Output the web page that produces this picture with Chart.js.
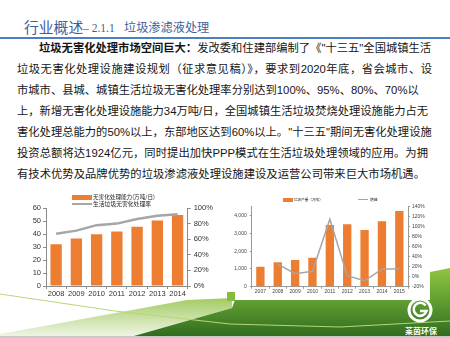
<!DOCTYPE html>
<html><head><meta charset="utf-8">
<script src="https://cdn.jsdelivr.net/npm/chart.js@4"></script>
<style>
html,body{margin:0;padding:0;background:#fff;}
body{width:450px;height:338px;position:relative;overflow:hidden;font-family:"Liberation Sans","Noto Sans CJK SC",sans-serif;}
#bg{position:absolute;left:0;top:0;}
.t{position:absolute;color:#3f5f9c;white-space:nowrap;}
.rule{position:absolute;left:0;top:36.5px;width:450px;height:2px;background:#4f7fc0;}
.ln{position:absolute;height:21px;line-height:21px;font-size:11.3px;color:#151515;white-space:nowrap;text-align:justify;text-align-last:justify;font-family:"Liberation Sans","Noto Sans CJK SC",sans-serif;}
.ln b{font-weight:bold;}
canvas{position:absolute;}
.lg{position:absolute;font-family:"Noto Sans CJK SC",serif;color:#222;white-space:nowrap;}
</style></head><body>
<svg id="bg" width="450" height="338">
<defs>
<linearGradient id="dg" x1="0" y1="268" x2="0" y2="338" gradientUnits="userSpaceOnUse">
<stop offset="0" stop-color="#8fc640"/><stop offset="0.45" stop-color="#62a032"/><stop offset="1" stop-color="#2e6a1f"/>
</linearGradient>
<linearGradient id="lg" x1="0" y1="298" x2="0" y2="338" gradientUnits="userSpaceOnUse">
<stop offset="0" stop-color="#a3cb62"/><stop offset="1" stop-color="#f2f7ea"/>
</linearGradient>
</defs>
<polygon points="0,338 0,334 187,300 232,298 232,308 127,338" fill="url(#lg)"/>
<polygon points="127,338 232,308 235,300 430,300 430,272 450,268 450,338" fill="url(#dg)"/>
<rect x="227" y="292" width="8" height="9" fill="#86bb3c"/>
<polyline points="0,294 115,311 230,324 340,327 450,321" fill="none" stroke="#b6d67a" stroke-width="1"/>
<rect x="0" y="336" width="450" height="2" fill="#c9c9c9"/>
<circle cx="420" cy="310" r="11" fill="none" stroke="#fff" stroke-width="3"/>
<path d="M425.5,305.5 A6.5,6.5 0 1 0 426.5,311 L420,311" fill="none" stroke="#fff" stroke-width="2.6"/>
<text x="421" y="334" fill="#fff" font-size="8" font-weight="bold" text-anchor="middle" font-family="Noto Sans CJK SC">莱茵环保</text>
</svg>

<div class="t" style="left:24px;top:17px;line-height:20px;font-size:14.8px;font-family:'Noto Sans CJK SC',sans-serif;">行业概述</div>
<div class="t" style="left:83px;top:19px;line-height:18px;font-size:11.5px;font-family:'Liberation Serif',serif;">– 2.1.1</div>
<div class="t" style="left:124px;top:18px;line-height:18px;font-size:12.2px;font-family:'Noto Sans CJK SC',sans-serif;">垃圾渗滤液处理</div>
<div class="rule"></div>

<div class="ln" style="left:39px;top:37.5px;width:389px;"><b>垃圾无害化处理市场空间巨大：</b>发改委和住建部编制了《"十三五"全国城镇生活</div>
<div class="ln" style="left:17px;top:58.5px;width:415px;">垃圾无害化处理设施建设规划（征求意见稿）》，要求到2020年底，省会城市、设</div>
<div class="ln" style="left:17px;top:79.5px;width:398px;">市城市、县城、城镇生活垃圾无害化处理率分别达到100%、95%、80%、70%以</div>
<div class="ln" style="left:17px;top:100.5px;width:409px;">上，新增无害化处理设施能力34万吨/日，全国城镇生活垃圾焚烧处理设施能力占无</div>
<div class="ln" style="left:17px;top:121.5px;width:413px;">害化处理总能力的50%以上，东部地区达到60%以上。"十三五"期间无害化处理设施</div>
<div class="ln" style="left:17px;top:142.5px;width:411px;">投资总额将达1924亿元，同时提出加快PPP模式在生活垃圾处理领域的应用。为拥</div>
<div class="ln" style="left:17px;top:163.5px;width:408px;">有技术优势及品牌优势的垃圾渗滤液处理设施建设及运营公司带来巨大市场机遇。</div>

<canvas id="c1" width="200" height="115" style="left:25px;top:185px;width:200px;height:115px;"></canvas>
<canvas id="c2" width="208" height="105" style="left:222px;top:190px;width:208px;height:105px;"></canvas>

<div style="position:absolute;left:72px;top:195px;width:20px;height:5px;background:#ed7d31;"></div>
<div class="lg" style="left:93px;top:193px;font-size:5.6px;line-height:8px;">无害化处理能力(万吨/日)</div>
<div style="position:absolute;left:72px;top:203px;width:20px;height:2px;background:#a6a6a6;"></div>
<div class="lg" style="left:93px;top:200px;font-size:5.8px;line-height:8px;">生活垃圾无害化处理率</div>

<div style="position:absolute;left:283px;top:198px;width:10px;height:3.5px;background:#ed7d31;"></div>
<div class="lg" style="left:294px;top:197px;font-size:3.6px;line-height:5px;">垃圾产量（万吨）</div>
<div style="position:absolute;left:358px;top:199px;width:10px;height:1px;background:#a6a6a6;"></div>
<div class="lg" style="left:370px;top:197px;font-size:3.8px;line-height:5px;">增速</div>

<script>
// Left chart data
const leftYears = ['2008','2009','2010','2011','2012','2013','2014'];
const capacity = [32.2, 36.6, 39.8, 42.0, 45.5, 50.3, 54.6];
const treatRate = [67, 71, 78, 80, 86, 90, 92];
const leftNames = ['无害化处理能力(万吨/日)', '生活垃圾无害化处理率'];

// Right chart data
const rightYears = ['2007','2008','2009','2010','2011','2012','2013','2014','2015'];
const output = [1125, 1370, 1500, 1630, 3470, 3510, 3190, 3680, 4260];
const growth = [null, 25, 6, 11, 115, 2, -8, 15, 16];
const rightNames = ['垃圾产量（万吨）', '增速'];

const ORANGE = '#ed7d31', GRAY = '#a6a6a6';
const fixW = w => (s => { s.width = w; });
const fixH = h => (s => { s.height = h; });

new Chart(document.getElementById('c1'), {
  type: 'bar',
  data: {
    labels: leftYears,
    datasets: [
      { type: 'line', label: leftNames[1], data: treatRate, yAxisID: 'y1', borderColor: GRAY, borderWidth: 2.5, pointRadius: 0, tension: 0, order: 0 },
      { type: 'bar', label: leftNames[0], data: capacity, yAxisID: 'y', backgroundColor: ORANGE, categoryPercentage: 1, barPercentage: 0.56, order: 1 }
    ]
  },
  options: {
    responsive: false, animation: false,
    layout: { padding: { top: 23, left: 0, right: 0, bottom: 0 } },
    plugins: { legend: { display: false }, tooltip: { enabled: false } },
    scales: {
      x: {
        afterFit: fixH(14),
        grid: { drawOnChartArea: false, drawTicks: true, tickLength: 3, color: '#8c8c8c' },
        border: { display: true, color: '#8c8c8c' },
        ticks: { color: '#333', font: { size: 7.5, family: 'Liberation Sans' }, padding: 0, maxRotation: 0 }
      },
      y: {
        position: 'left', min: 0, max: 60,
        afterFit: fixW(21),
        grid: { drawOnChartArea: false, drawTicks: true, tickLength: 3, color: '#8c8c8c' },
        border: { display: true, color: '#8c8c8c' },
        ticks: { stepSize: 10, color: '#333', font: { size: 7.5, family: 'Liberation Sans' }, padding: 2 }
      },
      y1: {
        position: 'right', min: 0, max: 100,
        afterFit: fixW(37.3),
        grid: { drawOnChartArea: false, drawTicks: true, tickLength: 3, color: '#8c8c8c' },
        border: { display: true, color: '#8c8c8c' },
        ticks: { stepSize: 10, color: '#333', font: { size: 7.5, family: 'Liberation Sans' }, padding: 3, callback: v => v + '%' }
      }
    }
  }
});

new Chart(document.getElementById('c2'), {
  type: 'bar',
  data: {
    labels: rightYears,
    datasets: [
      { type: 'line', label: rightNames[1], data: growth, yAxisID: 'y1', borderColor: GRAY, borderWidth: 1.5, pointRadius: 0, tension: 0, spanGaps: false, order: 0 },
      { type: 'bar', label: rightNames[0], data: output, yAxisID: 'y', backgroundColor: ORANGE, categoryPercentage: 1, barPercentage: 0.48, order: 1 }
    ]
  },
  options: {
    responsive: false, animation: false,
    layout: { padding: { top: 16.7, left: 0, right: 0, bottom: 0 } },
    plugins: { legend: { display: false }, tooltip: { enabled: false } },
    scales: {
      x: {
        afterFit: fixH(8.3),
        grid: { drawOnChartArea: false, drawTicks: true, tickLength: 2, color: '#9a9a9a' },
        border: { display: true, color: '#9a9a9a' },
        ticks: { color: '#444', font: { size: 5, family: 'Liberation Sans' }, padding: 0, maxRotation: 0 }
      },
      y: {
        position: 'left', min: 0, max: 4500,
        afterFit: fixW(29.7),
        grid: { drawOnChartArea: false, drawTicks: true, tickLength: 2, color: '#9a9a9a' },
        border: { display: true, color: '#9a9a9a' },
        ticks: { stepSize: 500, color: '#444', font: { size: 5, family: 'Liberation Sans' }, padding: 3 }
      },
      y1: {
        position: 'right', min: -20, max: 140,
        afterFit: fixW(22),
        grid: { drawOnChartArea: false, drawTicks: true, tickLength: 2, color: '#9a9a9a' },
        border: { display: true, color: '#9a9a9a' },
        ticks: { stepSize: 20, color: '#444', font: { size: 5, family: 'Liberation Sans' }, padding: 2, callback: v => v + '%' }
      }
    }
  }
});
</script>
</body></html>
